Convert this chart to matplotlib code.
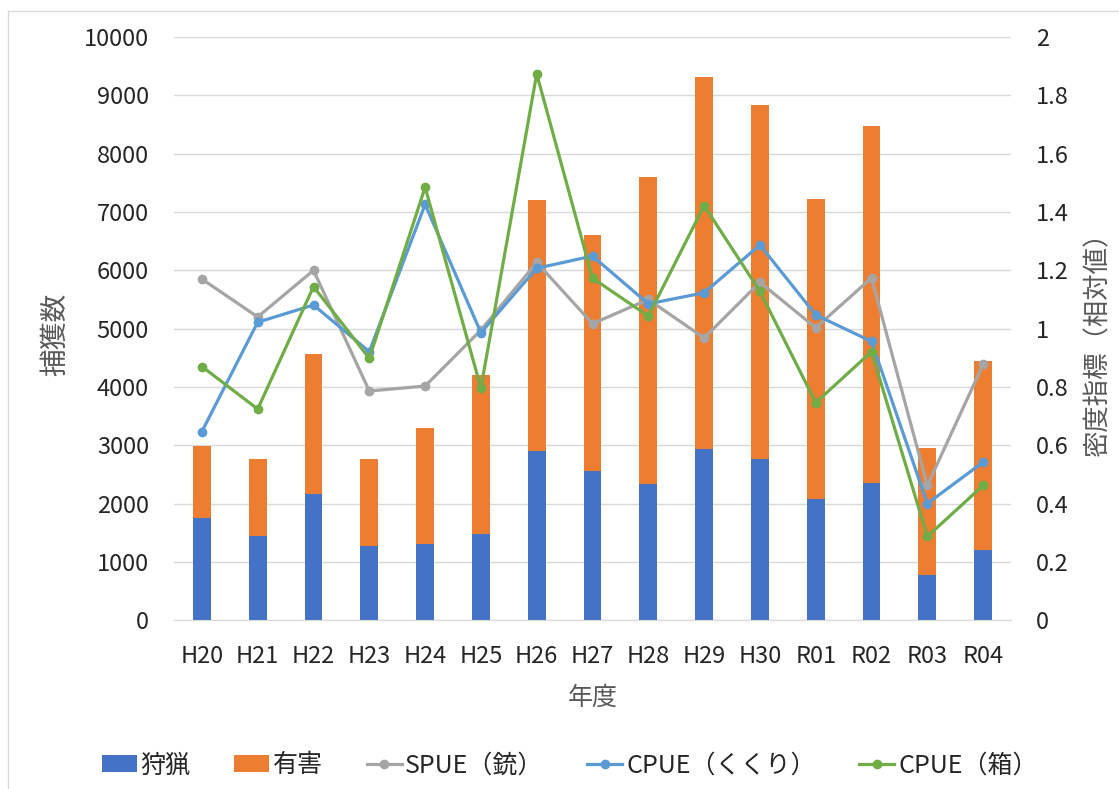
import numpy as np
import matplotlib
matplotlib.use('Agg')
import matplotlib.pyplot as plt
from matplotlib.lines import Line2D

plt.rcParams['font.family'] = ['Noto Sans CJK JP', 'DejaVu Sans']

# data
years = ['H20', 'H21', 'H22', 'H23', 'H24', 'H25', 'H26', 'H27',
         'H28', 'H29', 'H30', 'R01', 'R02', 'R03', 'R04']
hunting = [1750, 1450, 2170, 1270, 1300, 1480, 2900, 2560,
           2340, 2930, 2770, 2070, 2360, 780, 1210]
total = [2990, 2770, 4560, 2760, 3290, 4200, 7210, 6610,
         7600, 9320, 8830, 7230, 8470, 2950, 4450]
nuisance = [t - h for t, h in zip(total, hunting)]
spue_gun = [1.17, 1.04, 1.20, 0.786, 0.803, 0.995, 1.227, 1.017,
            1.10, 0.968, 1.159, 1.003, 1.174, 0.462, 0.877]
cpue_snare = [0.647, 1.022, 1.081, 0.921, 1.426, 0.986, 1.207, 1.249,
              1.085, 1.123, 1.287, 1.047, 0.956, 0.40, 0.542]
cpue_box = [0.870, 0.724, 1.144, 0.898, 1.485, 0.796, 1.874, 1.173,
            1.043, 1.422, 1.128, 0.746, 0.921, 0.287, 0.462]

c_blue = '#4472C4'
c_orange = '#ED7D31'
c_gray = '#A5A5A5'
c_lblue = '#5B9BD5'
c_green = '#70AD47'
txt = '#262626'
lab = '#595959'

fig = plt.figure(figsize=(11.19, 7.89), dpi=100)
ax = fig.add_axes([0.1555, 0.214, 0.748, 0.739])
ax2 = ax.twinx()

x = np.arange(len(years))
w = 0.32
ax.bar(x, hunting, w, color=c_blue, label='狩猟', zorder=2)
ax.bar(x, nuisance, w, bottom=hunting, color=c_orange, label='有害', zorder=2)

ax2.plot(x, spue_gun, color=c_gray, lw=2.3, marker='o', ms=6, label='SPUE（銃）')
ax2.plot(x, cpue_snare, color=c_lblue, lw=2.3, marker='o', ms=6, label='CPUE（くくり）')
ax2.plot(x, cpue_box, color=c_green, lw=2.3, marker='o', ms=6, label='CPUE（箱）')

ax.set_xlim(-0.5, len(years) - 0.5)
ax.set_ylim(0, 10000)
ax.set_yticks(range(0, 10001, 1000))
ax2.set_ylim(0, 2)
ax2.set_yticks(np.arange(0, 2.01, 0.2))
ax2.set_yticklabels(['0', '0.2', '0.4', '0.6', '0.8', '1', '1.2', '1.4', '1.6', '1.8', '2'])
ax.set_xticks(x)
ax.set_xticklabels(years)

ax.grid(axis='y', color='#D9D9D9', lw=1, zorder=0)
ax.set_axisbelow(True)
for a in (ax, ax2):
    for s in a.spines.values():
        s.set_visible(False)
    a.tick_params(length=0, labelsize=17, colors=txt)
ax.spines['bottom'].set_visible(True)
ax.spines['bottom'].set_color('#D9D9D9')
ax.tick_params(axis='y', pad=18)
ax.tick_params(axis='x', pad=18)
ax2.tick_params(axis='y', pad=18)

ax.set_ylabel('捕獲数', fontsize=20, color=lab)
ax.yaxis.set_label_coords(-0.124, 0.49)
ax2.set_ylabel('密度指標（相対値）', fontsize=19, color=lab)
ax2.yaxis.set_label_coords(1.088, 0.485)
ax.set_xlabel('年度', fontsize=18, color=lab, labelpad=12)

h1, l1 = ax.get_legend_handles_labels()
h2, l2 = ax2.get_legend_handles_labels()
leg = fig.legend(h1 + h2, l1 + l2, loc='center', bbox_to_anchor=(0.509, 0.03),
                 ncol=5, frameon=False, fontsize=18, handlelength=1.4,
                 handletextpad=0.15, columnspacing=1.75, labelcolor=txt)

# outer chart border (left and top edges visible)
fig.add_artist(Line2D([8 / 1119, 8 / 1119], [0, 1 - 11 / 789], color='#D9D9D9', lw=1))
fig.add_artist(Line2D([8 / 1119, 1], [1 - 11 / 789, 1 - 11 / 789], color='#D9D9D9', lw=1))

fig.savefig('out.png', dpi=100)
